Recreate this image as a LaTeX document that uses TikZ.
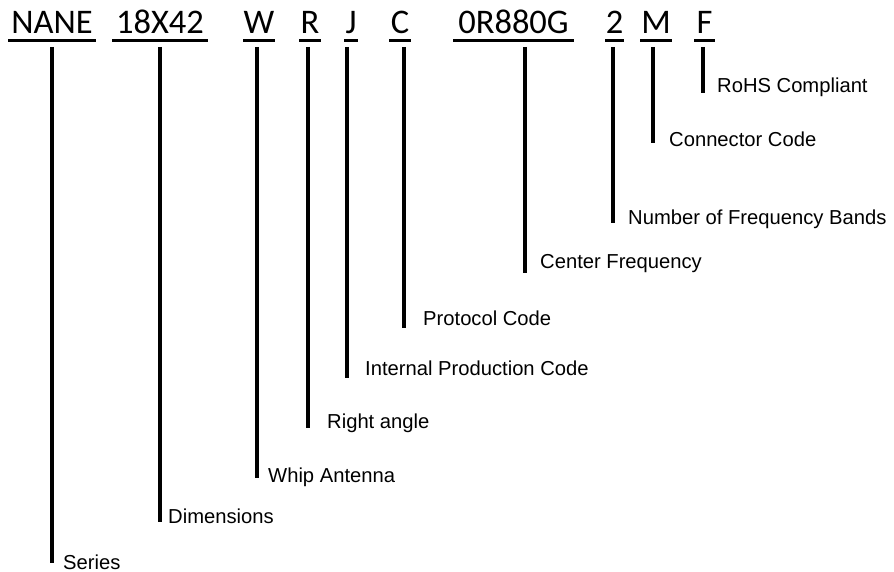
\documentclass[tikz,border=0pt]{standalone}
\usepackage{fontspec}
\setmainfont{Liberation Sans}
\newfontfamily\codefont{Carlito}
\begin{document}
\begin{tikzpicture}[x=1pt, y=-1pt,
                    line cap=butt,
                    code/.style={font=\codefont\fontsize{34.5}{34.5}\selectfont, inner sep=0pt, anchor=base},
                    uline/.style={line width=3pt},
                    leader/.style={line width=4pt},
                    desc/.style={font=\fontsize{20.2}{20.2}\selectfont, inner sep=0pt, anchor=base west}]
  \useasboundingbox (0,0) rectangle (894,572);

  % part number, underlined piece by piece
  \foreach \name/\txt/\xa/\xb in {nane/NANE/8/96, dim/18X42/112/208, whip/W/243/275,
                                  right/R/299/321, prod/J/344/358, prot/C/389/411,
                                  freq/0R880G/453/574, bands/2/605/624, conn/M/640/672,
                                  rohs/F/694/715}{
    \node[code] (\name) at ({(\xa+\xb)/2},33.3) {\txt};
    \draw[uline] (\xa,41) -- (\xb,41);
  }

  % leader lines and descriptions
  \foreach \name/\x/\yend/\tx/\ty/\txt in {nane/51.7/563/63/569/Series,
                                           dim/160/522/168/523/Dimensions,
                                           whip/257/478/268/482/Whip Antenna,
                                           right/308/428/327/428/Right angle,
                                           prod/347/378/365/375/Internal Production Code,
                                           prot/404/328/423/325/Protocol Code,
                                           freq/525/273/540/268/Center Frequency,
                                           bands/613/223/628/225/Number of Frequency Bands,
                                           conn/653/143/669/147/Connector Code,
                                           rohs/703/93/717/93/RoHS Compliant}{
    \coordinate (\name-top) at (\x,47);
    \coordinate (\name-end) at (\x,\yend);
    \draw[leader] (\name-top) -- (\name-end);
    \node[desc] (\name-desc) at (\tx,\ty) {\txt};
  }
\end{tikzpicture}
\end{document}
